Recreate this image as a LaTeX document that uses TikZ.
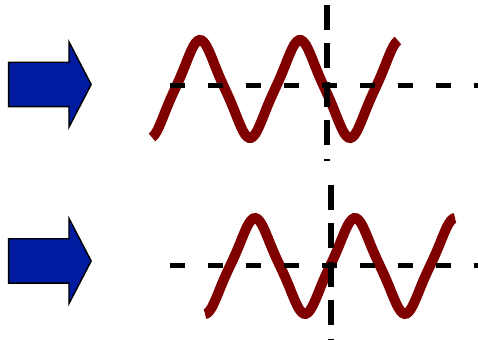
\documentclass[tikz,border=0pt]{standalone}
\usepackage{xcolor}
\usepackage{tikz}
\usetikzlibrary{shapes.arrows}

\definecolor{arrowBlue}{RGB}{0,26,160}
\definecolor{waveRed}{RGB}{128,0,0}

\begin{document}
\begin{tikzpicture}[
  x=0.02cm, y=-0.02cm,
  shiftArrow/.style={single arrow, draw=black, thick, fill=arrowBlue, inner sep=0pt, minimum width=0pt,
    inner ysep=0.43cm, minimum height=1.65cm, single arrow head extend=0.41cm, single arrow tip angle=125, anchor=tail},
  waveLine/.style={draw=waveRed, line width=5.7pt},
  axisH/.style={draw=black, line width=3.4pt, dash pattern=on 8.5pt off 13.1pt},
  axisV/.style={draw=black, line width=3.4pt, dash pattern=on 14.2pt off 7.7pt}
]
\useasboundingbox (0,0) rectangle (478,340);

% upper signal
\node[shiftArrow] (arrowTop) at (8,84.5) {};
\draw[waveLine] plot[domain=152:398, samples=120, smooth]
  (\x, {89-45.4*(sin(3.6*(\x-175))-0.08*sin(10.8*(\x-175)))});
\coordinate (hTopL) at (170,85.5);
\coordinate (hTopR) at (478,85.5);
\coordinate (vTopT) at (327,5);
\coordinate (vTopB) at (327,161);
\draw[axisH] (hTopL) -- (hTopR);
\draw[axisV] (vTopT) -- (vTopB);

% lower signal, shifted
\node[shiftArrow] (arrowBot) at (8,261) {};
\draw[waveLine] plot[domain=205:455, samples=120, smooth]
  (\x, {266-44.4*(sin(3.6*(\x-230))-0.08*sin(10.8*(\x-230)))});
\coordinate (hBotL) at (170,265.5);
\coordinate (hBotR) at (478,265.5);
\coordinate (vBotT) at (331,185);
\coordinate (vBotB) at (331,340);
\draw[axisH] (hBotL) -- (hBotR);
\draw[axisV] (vBotT) -- (vBotB);
\end{tikzpicture}
\end{document}
